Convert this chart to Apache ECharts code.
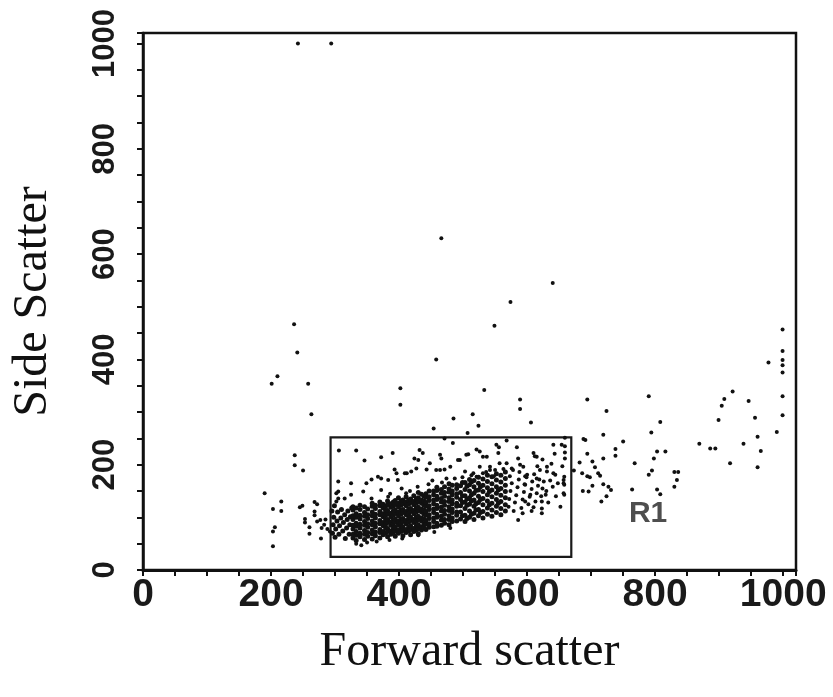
<!DOCTYPE html>
<html>
<head>
<meta charset="utf-8">
<script src="https://cdn.jsdelivr.net/npm/echarts@6/dist/echarts.min.js"></script>
<style>
  html, body { margin: 0; padding: 0; background: #fff; }
  #chart { width: 833px; height: 697px; }
</style>
</head>
<body>
<div id="chart"></div>
<script>
// tick labels
const xTicks = [0, 200, 400, 600, 800, 1000];
const yTicks = [0, 200, 400, 600, 800, 1000];

// gate R1: [x1, y1, x2, y2] and where its name sits
const gateR1 = [293, 25, 669, 252];
const gateLabel = [789, 106];

// events far from the gate
const outliers = [
  [242, 1000], [294, 1000],
  [466, 630], [640, 545], [574, 509], [549, 464], [236, 467], [241, 413],
  [210, 368], [201, 354], [258, 354], [263, 296], [458, 400], [402, 345],
  [402, 314], [533, 342], [589, 324], [589, 306], [606, 280], [515, 296],
  [524, 274], [485, 288], [454, 269], [507, 260],
  [999, 457], [999, 416], [999, 399], [999, 389], [999, 375], [977, 394],
  [999, 330], [999, 294], [990, 262], [921, 339], [908, 325], [904, 312],
  [946, 321], [956, 289], [899, 285], [960, 253], [965, 226], [960, 195],
  [938, 240], [917, 203], [869, 240], [886, 231], [894, 231], [790, 330],
  [808, 281], [794, 261], [803, 225], [816, 225], [798, 212], [795, 189],
  [790, 181], [830, 186], [836, 186], [834, 171], [830, 158], [803, 153],
  [808, 144], [768, 203], [764, 153], [750, 244], [738, 230], [738, 217],
  [719, 257], [724, 302], [694, 324], [719, 212], [694, 221], [691, 247],
  [702, 206], [706, 195], [711, 184], [714, 179], [698, 176], [702, 160],
  [696, 149], [719, 163], [727, 158], [731, 152], [724, 140], [716, 130],
  [688, 249], [682, 204], [686, 184], [673, 189], [694, 178], [687, 150]
];

// events left of the gate
const leftTail = [
  [237, 218], [237, 199], [250, 189], [190, 146], [216, 130], [203, 116],
  [216, 112], [245, 119], [249, 122], [268, 129], [272, 125], [268, 111],
  [268, 104], [253, 97], [253, 90], [206, 81], [203, 73], [203, 45],
  [260, 81], [260, 69], [278, 60], [279, 80], [272, 92], [283, 86],
  [288, 78], [292, 73], [277, 95], [285, 96]
];

// sparse events inside the gate above the main band
const upperEvents = [
  [306, 227], [333, 227], [346, 208], [372, 214], [390, 222], [424, 212],
  [430, 209], [432, 228], [437, 222], [471, 250], [484, 241], [508, 220],
  [521, 229], [526, 225], [531, 215], [552, 238], [556, 233], [555, 222],
  [568, 246], [584, 233], [610, 222], [615, 215], [641, 238], [654, 238],
  [659, 251], [659, 235], [659, 223], [659, 212], [658, 177], [658, 162],
  [658, 143], [655, 197], [643, 221], [638, 202], [644, 181], [624, 210],
  [631, 187], [629, 143], [623, 108], [623, 117], [623, 130], [612, 216],
  [616, 197], [615, 174], [610, 119], [607, 112], [597, 178], [597, 162],
  [605, 143], [597, 130], [593, 108], [586, 95], [586, 212], [589, 200],
  [576, 193], [427, 193], [448, 203], [466, 212], [464, 190], [480, 196],
  [495, 209], [503, 187], [474, 174], [396, 184], [412, 184], [372, 174],
  [526, 196], [542, 190], [568, 203], [578, 190], [594, 196], [600, 181],
  [620, 190], [631, 196], [641, 184], [657, 171], [657, 165], [657, 146],
  [305, 168], [305, 149], [305, 136], [393, 191], [409, 184], [419, 187],
  [325, 165], [349, 165], [357, 172], [367, 177], [383, 171], [398, 171],
  [344, 149], [302, 146], [325, 143], [372, 152], [404, 155], [411, 146],
  [383, 139], [302, 130], [315, 136], [357, 136], [464, 219], [505, 219],
  [471, 191], [458, 190], [443, 191], [492, 209], [537, 215], [542, 196],
  [531, 184], [516, 184], [521, 177], [557, 203], [550, 190],
  [386, 145], [417, 150], [429, 158], [446, 163], [452, 170], [467, 166],
  [487, 174], [499, 176], [513, 180], [536, 186], [548, 178], [563, 192]
];

// left end of the band, at the gate edge
const bandLeft = [
  [296, 70], [297, 86], [298, 100], [300, 62], [301, 78], [303, 93],
  [304, 110], [306, 68], [307, 84], [309, 99], [310, 115], [312, 74],
  [313, 90], [315, 105], [316, 60], [318, 80], [319, 96], [320, 112],
  [322, 68], [323, 86], [324, 101], [326, 118], [295, 112], [299, 122]
];

// dense core of the band: [x, [y, ...]]
const bandCore = [
  [328, [61, 68, 78, 85, 96, 103, 114, 120]],
  [333, [56, 66, 73, 83, 89, 100, 107, 118]],
  [339, [63, 70, 80, 87, 97, 104, 115, 123]],
  [346, [58, 68, 75, 85, 92, 102, 109, 120]],
  [351, [64, 71, 81, 88, 98, 105, 116]],
  [358, [59, 69, 76, 86, 93, 103, 110, 121, 127]],
  [363, [65, 72, 82, 89, 99, 106, 117, 123]],
  [370, [61, 71, 77, 88, 94, 105, 111, 122, 129]],
  [375, [67, 73, 84, 90, 101, 107, 118, 125]],
  [379, [70, 80, 87, 96, 104, 113, 121]],
  [382, [63, 73, 79, 90, 96, 107, 113, 124, 131]],
  [387, [68, 74, 85, 91, 101, 108, 119, 126]],
  [391, [71, 79, 88, 95, 104, 112, 121, 129]],
  [394, [64, 74, 81, 91, 97, 108, 114, 125, 132]],
  [399, [70, 76, 86, 93, 103, 110, 120, 127, 137]],
  [403, [73, 81, 89, 97, 106, 114, 123, 131]],
  [406, [65, 75, 82, 92, 98, 109, 115, 126, 133]],
  [411, [71, 77, 88, 94, 105, 111, 122, 129, 139]],
  [415, [74, 82, 91, 99, 107, 116, 125, 133]],
  [418, [67, 77, 84, 94, 100, 111, 117, 128, 135]],
  [423, [73, 79, 90, 96, 107, 113, 124, 130, 141]],
  [427, [76, 84, 93, 101, 110, 118, 127, 135]],
  [430, [69, 79, 86, 96, 102, 113, 119, 130, 137, 147]],
  [435, [76, 82, 93, 99, 110, 116, 127, 133, 144]],
  [439, [80, 88, 97, 106, 114, 123, 131, 140]],
  [442, [77, 87, 94, 104, 111, 121, 128, 138, 145]],
  [447, [81, 88, 98, 105, 115, 122, 132, 139, 150]],
  [454, [82, 92, 99, 109, 116, 126, 133, 143, 150]],
  [459, [83, 89, 100, 106, 117, 123, 134, 140, 151, 157]],
  [466, [85, 95, 102, 112, 119, 129, 136, 146, 153]],
  [471, [89, 96, 106, 113, 123, 130, 140, 147, 158]],
  [478, [86, 96, 103, 113, 120, 130, 137, 148, 154, 164]],
  [483, [92, 99, 109, 116, 126, 133, 143, 150, 161]],
  [490, [93, 104, 110, 121, 127, 138, 145, 155, 162]]
];

// looser middle part of the band
const bandMid = [
  [496, [97, 110, 122, 134, 147, 160]],
  [499, [103, 128, 141, 166]],
  [503, [92, 104, 117, 129, 141, 153, 166]],
  [506, [98, 123, 135, 159]],
  [510, [100, 112, 125, 137, 150, 162, 172]],
  [513, [106, 131, 143, 167]],
  [517, [96, 108, 121, 133, 146, 158, 170]],
  [520, [114, 126, 151]],
  [524, [103, 115, 128, 140, 152, 165, 176]],
  [527, [109, 134, 158]],
  [531, [99, 111, 124, 136, 149, 161, 173]],
  [538, [106, 118, 131, 143, 156, 168, 180]],
  [541, [124, 149]],
  [545, [102, 114, 127, 139, 152, 164, 177]],
  [552, [109, 121, 134, 146, 158, 171, 183]],
  [555, [127, 152]],
  [559, [105, 117, 130, 142, 155, 167, 180]],
  [566, [112, 124, 137, 149, 161, 174, 186]]
];

// thinning right end of the band
const bandRight = [
  [571, 120], [572, 135], [574, 150], [576, 165], [573, 178], [579, 112],
  [581, 128], [583, 142], [585, 157], [587, 172], [588, 186], [591, 118],
  [593, 134], [595, 148], [596, 163], [599, 176], [602, 125], [604, 139],
  [607, 154], [608, 168], [611, 182], [613, 130], [615, 146], [617, 160],
  [619, 172], [622, 140], [624, 155], [626, 168], [630, 150], [633, 128],
  [636, 170], [640, 158], [645, 140], [648, 165], [652, 120]
];

// few events under the band
const bandBelow = [
  [333, 50], [341, 47], [350, 52], [365, 54], [385, 57], [405, 60],
  [430, 66], [455, 72], [480, 80]
];

function flatCols(cols) {
  const out = [];
  cols.forEach(c => c[1].forEach(y => out.push([c[0], y])));
  return out;
}

const sparseEvents = outliers.concat(leftTail, upperEvents, bandRight, bandBelow);
const bandEvents = bandLeft.concat(flatCols(bandCore), flatCols(bandMid));

const labelFont = { color: '#1a1a1a', fontFamily: 'Liberation Sans', fontWeight: 'bold' };

const myChart = echarts.init(document.getElementById('chart'));
myChart.setOption({
  backgroundColor: '#fff',
  animation: false,
  grid: {
    left: 143, right: 37, top: 33, bottom: 127,
    show: true, borderColor: '#111', borderWidth: 2.5
  },
  xAxis: {
    type: 'value', min: 0, max: 1020, interval: 50,
    name: 'Forward scatter', nameLocation: 'middle', nameGap: 58,
    nameTextStyle: { fontFamily: 'Liberation Serif', fontSize: 48, color: '#111' },
    axisLine: { show: true, onZero: false, lineStyle: { color: '#111', width: 3 } },
    axisTick: { show: true, length: 6, lineStyle: { color: '#111', width: 2 } },
    splitLine: { show: false },
    axisLabel: Object.assign({
      margin: 6, fontSize: 39,
      formatter: v => xTicks.indexOf(v) >= 0 ? String(v) : ''
    }, labelFont)
  },
  yAxis: {
    type: 'value', min: 0, max: 1020, interval: 50,
    name: 'Side Scatter', nameLocation: 'middle', nameGap: 86,
    nameTextStyle: { fontFamily: 'Liberation Serif', fontSize: 48, color: '#111' },
    axisLine: { show: true, onZero: false, lineStyle: { color: '#111', width: 2.5 } },
    axisTick: { show: true, length: 6, lineStyle: { color: '#111', width: 2 } },
    splitLine: { show: false },
    axisLabel: Object.assign({
      margin: 22, rotate: 90, fontSize: 31,
      formatter: v => yTicks.indexOf(v) >= 0 ? String(v) : ''
    }, labelFont)
  },
  series: [
    {
      name: 'events',
      type: 'scatter',
      symbol: 'circle',
      symbolSize: 4,
      itemStyle: { color: '#111', opacity: 1 },
      data: sparseEvents,
      markArea: {
        silent: true,
        itemStyle: { color: 'rgba(0,0,0,0)', borderColor: '#1a1a1a', borderWidth: 2.2 },
        data: [[{ coord: [gateR1[0], gateR1[1]] }, { coord: [gateR1[2], gateR1[3]] }]]
      }
    },
    {
      name: 'band',
      type: 'scatter',
      symbol: 'circle',
      symbolSize: 5,
      itemStyle: { color: '#111', opacity: 1 },
      data: bandEvents
    },
    {
      name: 'R1',
      type: 'scatter',
      symbolSize: 0,
      data: [gateLabel],
      label: {
        show: true, position: 'inside', formatter: 'R1',
        fontFamily: 'Liberation Sans', fontWeight: 'bold', fontSize: 30, color: '#222'
      }
    }
  ]
});
</script>
</body>
</html>
